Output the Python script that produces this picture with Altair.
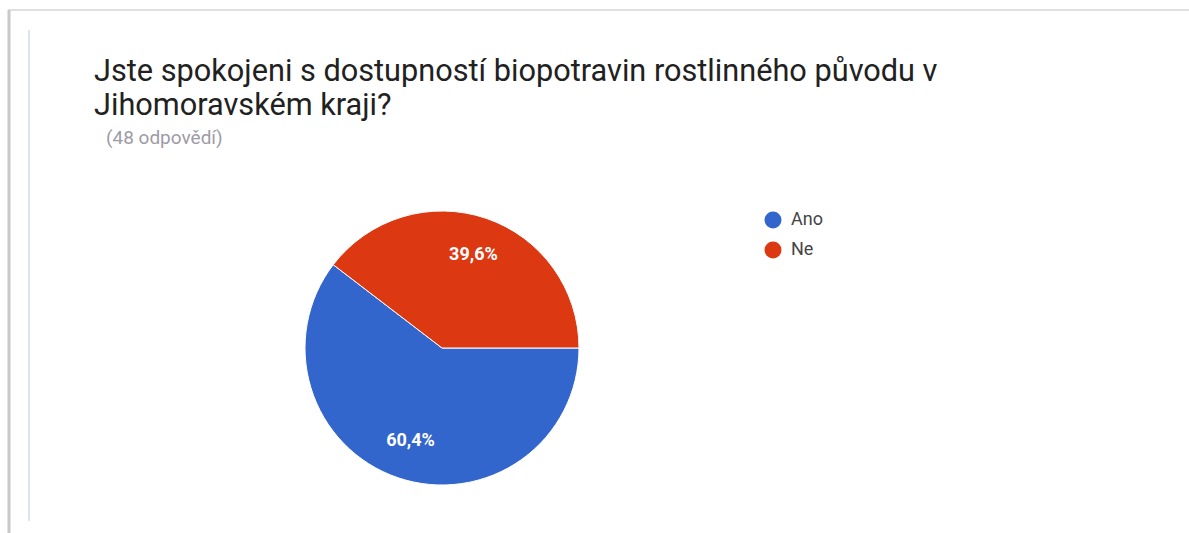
import altair as alt
import pandas as pd

categories = ["Ano", "Ne"]
values = [60.4, 39.6]
labels = ["60,4%", "39,6%"]
colors = ["#3366CC", "#DC3912"]
title_line1 = "Jste spokojeni s dostupností biopotravin rostlinného původu v"
title_line2 = "Jihomoravském kraji?"
subtitle = "(48 odpovědí)"

df = pd.DataFrame({"cat": categories, "val": values, "lab": labels, "order": [0, 1]})

W, H = 1189, 533
FONT = "Roboto"
CX, CY, R = 442, 348, 137
PI = 3.141592653589793

theta = alt.Theta("val:Q", stack=True, scale=alt.Scale(range=[PI / 2, PI / 2 + 2 * PI]))
color = alt.Color(
    "cat:N",
    scale=alt.Scale(domain=categories, range=colors),
    legend=alt.Legend(
        title=None, orient="none", legendX=764, legendY=211, symbolType="circle",
        symbolSize=289, symbolStrokeWidth=0, labelFont=FONT, labelFontSize=18,
        labelColor="#444444", rowPadding=12, labelOffset=9,
    ),
)

pie = alt.Chart(df).mark_arc(radius=R, stroke="white", strokeWidth=1).encode(
    theta=theta, color=color, order=alt.Order("order:Q"),
    x=alt.value(CX), y=alt.value(CY),
)
pie_text = alt.Chart(df).mark_text(
    radius=98, font=FONT, fontSize=18, fontWeight="bold", color="white"
).encode(
    theta=theta, text="lab:N", order=alt.Order("order:Q"),
    x=alt.value(CX), y=alt.value(CY),
)

def text_layer(txt, x, y, size, col):
    return alt.Chart(pd.DataFrame({"t": [txt]})).mark_text(
        align="left", baseline="alphabetic", font=FONT, fontSize=size, color=col
    ).encode(text="t:N", x=alt.value(x), y=alt.value(y))

title1 = text_layer(title_line1, 94, 81, 30.7, "#212121")
title2 = text_layer(title_line2, 94, 115, 30.7, "#212121")
sub = text_layer(subtitle, 106, 144, 19, "#9e9aa6")

frame_top = alt.Chart(pd.DataFrame({"a": [0]})).mark_rule(color="#e0e0e0", strokeWidth=2).encode(
    x=alt.value(8), x2=alt.value(W), y=alt.value(10)
)
frame_left = alt.Chart(pd.DataFrame({"a": [0]})).mark_rule(color="#c8c8c8", strokeWidth=3).encode(
    x=alt.value(9), y=alt.value(10), y2=alt.value(H)
)
inner_left = alt.Chart(pd.DataFrame({"a": [0]})).mark_rule(color="#dde4f0", strokeWidth=2).encode(
    x=alt.value(29), y=alt.value(30), y2=alt.value(521)
)

chart = alt.layer(frame_top, frame_left, inner_left, pie, pie_text, title1, title2, sub).properties(
    width=W, height=H, padding=0, autosize=alt.AutoSizeParams(type="none"),
    background="white",
).configure_view(stroke=None)

chart.save("out.html", embed_options={"renderer": "svg", "actions": False})
